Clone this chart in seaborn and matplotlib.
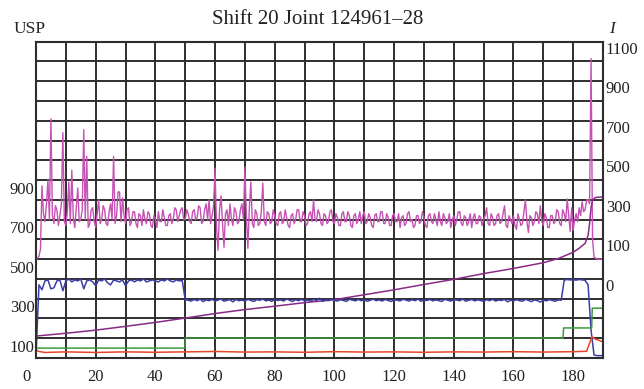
import numpy as np
import pandas as pd
import matplotlib
matplotlib.use("Agg")
import matplotlib.pyplot as plt
import matplotlib.transforms as mtransforms
import seaborn as sns

# ---------------- data ----------------
title_text = "Shift 20 Joint 124961–28"
left_axis_label = "USP"
right_axis_label = "I"

# sample positions
t_half = np.arange(0, 190.5, 0.5)   # magenta series sampled every 0.5
t = np.arange(0, 191)               # blue series sampled every 1

magenta_vals = [
    600, 605, 615, 650, 970, 830, 790, 880, 1000, 800,
    1310, 820, 780, 870, 850, 770, 820, 880, 1240, 790,
    770, 840, 990, 780, 1050, 810, 760, 860, 960, 790,
    800, 850, 1255, 800, 1120, 760, 780, 850, 860, 790,
    760, 830, 900, 780, 800, 870, 850, 780, 770, 840,
    880, 800, 1120, 780, 820, 940, 940, 790, 910, 820,
    780, 850, 860, 770, 790, 840, 840, 780, 760, 830,
    820, 770, 850, 800, 780, 840, 830, 770, 760, 820,
    800, 760, 840, 790, 790, 850, 810, 770, 770, 820,
    830, 780, 800, 860, 850, 790, 820, 850, 860, 800,
    800, 850, 830, 790, 780, 840, 850, 800, 810, 870,
    860, 780, 790, 850, 880, 800, 900, 780, 820, 870,
    1060, 760, 645, 850, 920, 780, 660, 830, 850, 770,
    880, 800, 770, 860, 840, 780, 790, 850, 880, 800,
    1065, 820, 655, 860, 990, 780, 760, 850, 830, 770,
    780, 840, 985, 790, 770, 840, 830, 780, 790, 850,
    820, 780, 770, 830, 840, 780, 790, 850, 810, 770,
    760, 820, 830, 780, 800, 850, 850, 790, 790, 840,
    820, 770, 780, 830, 840, 790, 900, 800, 790, 850,
    830, 780, 770, 830, 820, 780, 790, 840, 850, 790,
    780, 830, 810, 770, 770, 830, 840, 790, 790, 840,
    820, 770, 760, 820, 830, 780, 800, 840, 780, 820,
    840, 780, 790, 830, 810, 770, 760, 820, 830, 790,
    790, 840, 840, 780, 780, 830, 810, 770, 770, 820,
    830, 790, 790, 830, 760, 810, 820, 770, 780, 830,
    840, 790, 800, 760, 770, 820, 820, 780, 790, 840,
    810, 770, 760, 820, 830, 790, 780, 830, 800, 770,
    840, 790, 770, 830, 810, 780, 790, 830, 760, 800,
    820, 770, 800, 840, 840, 780, 770, 820, 810, 770,
    790, 830, 760, 810, 830, 780, 780, 820, 810, 770,
    800, 820, 860, 780, 770, 830, 810, 770, 780, 820,
    830, 780, 790, 830, 870, 770, 760, 820, 800, 780,
    820, 770, 750, 830, 800, 770, 780, 840, 900, 790,
    735, 820, 810, 770, 790, 840, 830, 780, 870, 790,
    770, 830, 810, 760, 760, 820, 820, 780, 790, 850,
    840, 780, 770, 850, 830, 790, 905, 820, 740, 860,
    745, 800, 830, 790, 860, 820, 890, 840, 850, 900,
    900, 880, 1615, 700, 610, 605, 600, 600, 600, 600,
    600,
]

blue_vals = [
    110, 470, 445, 490, 495, 450, 455, 490, 495, 440,
    490, 500, 485, 495, 490, 500, 450, 490, 495, 485,
    465, 495, 490, 500, 480, 470, 495, 490, 485, 495,
    465, 490, 495, 485, 495, 490, 500, 485, 490, 495,
    490, 485, 495, 490, 500, 490, 485, 495, 490, 492,
    395,
    392, 388, 396, 390, 398, 385, 394, 390, 397, 388,
    393, 399, 387, 392, 395, 384, 396, 390, 393, 388,
    397, 391, 386, 395, 392, 398, 389, 393, 387, 396,
    391, 394, 388, 399, 392, 386, 395, 390, 397, 389,
    393, 388, 396, 391, 402, 387, 393, 390, 398, 392,
    388, 395, 391, 386, 397, 393, 389, 396, 390, 394,
    387, 392, 398, 390, 394, 388, 396, 391, 386, 395,
    392, 389, 397, 393, 388, 395, 390, 398, 387, 393,
    391, 396, 389, 394, 390, 386, 397, 392, 388, 395,
    393, 390, 398, 387, 392, 396, 389, 394, 391, 386,
    395, 390, 397, 388, 393, 391, 396, 384, 392, 389,
    395, 390, 387, 396, 392, 385, 394, 390, 383, 393,
    389, 395, 391, 387, 394, 392,
    494, 497, 495, 496, 494, 497, 495, 493, 470, 240,
    115, 112, 112, 112,
]

purple_x = [0, 10, 20, 30, 40, 50, 60, 70, 80, 90, 100, 110, 120, 130, 140,
            150, 160, 170, 175, 180, 182, 184, 185, 185.5, 186, 186.5, 187.5, 190]
purple_y = [211, 225, 241, 260, 280, 302, 325, 345, 362, 380, 395, 420, 445, 472, 498,
            527, 553, 582, 603, 635, 655, 680, 720, 780, 860, 900, 912, 915]

green_x = [0, 49.9, 50, 176.6, 176.8, 186.2, 186.4, 190]
green_y = [150, 150, 201, 201, 252, 252, 352, 352]

red_x = [0, 1, 3, 10, 20, 30, 40, 50, 60, 70, 80, 90, 100, 110, 120, 130, 140,
         150, 160, 170, 180, 184.5, 185.5, 186.3, 187.5, 190]
red_y = [140, 133, 128, 131, 128, 131, 129, 131, 133, 130, 131, 129, 132, 130, 131, 129, 131,
         130, 132, 130, 132, 134, 175, 207, 195, 182]

x_major = [0, 20, 40, 60, 80, 100, 120, 140, 160, 180]
x_major_labels = ["0", "20", "40", "60", "80", "100", "120", "140", "160", "180"]
x_minor = [10, 30, 50, 70, 90, 110, 130, 150, 170, 190]

left_ticks = [100, 300, 500, 700, 900]
left_tick_labels = ["100", "300", "500", "700", "900"]
right_ticks = [1100, 900, 700, 500, 300, 100, -100]
right_tick_labels = ["1100", "900", "700", "500", "300", "100", "0"]

colors = {
    "magenta": "#c552b3",
    "purple": "#8a2a88",
    "blue": "#3a3ea6",
    "green": "#3f9a3f",
    "red": "#e8462a",
}

# ---------------- plot ----------------
sns.set_theme(style="white")
plt.rcParams["font.family"] = ["Liberation Serif", "DejaVu Serif"]

W, H = 644, 389
fig = plt.figure(figsize=(W / 100, H / 100), dpi=100)
L, R, T, B = 36, 603, 41.7, 358
ax = fig.add_axes([L / W, 1 - B / H, (R - L) / W, (B - T) / H])

ax.set_xlim(0, 190)
ax.set_ylim(100, 1700)

grid_color = "#2e2e2e"
ax.set_xticks(x_major)
ax.set_xticklabels(x_major_labels)
ax.set_xticks(x_minor, minor=True)
ax.set_yticks(np.arange(100, 1701, 100), minor=True)
ax.set_yticks(left_ticks)
ax.set_yticklabels(left_tick_labels)
ax.grid(True, which="both", color=grid_color, linewidth=1.4)
ax.set_axisbelow(True)
for s in ax.spines.values():
    s.set_color(grid_color)
    s.set_linewidth(1.5)

ax.tick_params(axis="both", which="both", length=0, labelsize=12, colors="#222222")
ax.tick_params(axis="x", pad=8)
ax.tick_params(axis="y", pad=1)

lw_main = 1.1
sns.lineplot(x=t_half, y=magenta_vals, ax=ax, color=colors["magenta"], linewidth=1.0,
             estimator=None, sort=False)
sns.lineplot(x=purple_x, y=purple_y, ax=ax, color=colors["purple"], linewidth=lw_main,
             estimator=None, sort=False)
sns.lineplot(x=t, y=blue_vals, ax=ax, color=colors["blue"], linewidth=lw_main,
             estimator=None, sort=False)
sns.lineplot(x=green_x, y=green_y, ax=ax, color=colors["green"], linewidth=lw_main,
             estimator=None, sort=False)
sns.lineplot(x=red_x, y=red_y, ax=ax, color=colors["red"], linewidth=lw_main,
             estimator=None, sort=False)
ax.set_xlabel("")
ax.set_ylabel("")

# right axis
ax2 = ax.twinx()
ax2.set_ylim(-500, 1100)
ax2.set_yticks(right_ticks)
ax2.set_yticklabels(right_tick_labels)
ax2.tick_params(axis="y", length=0, labelsize=12, pad=2, colors="#222222")
for s in ax2.spines.values():
    s.set_visible(False)
ax2.grid(False)

# label alignment
for lbl in ax.get_yticklabels():
    lbl.set_va("bottom")
    lbl.set_transform(lbl.get_transform() + mtransforms.ScaledTranslation(0, 1.5 / 72, fig.dpi_scale_trans))
for lbl in ax2.get_yticklabels():
    lbl.set_va("top")
xl = ax.get_xticklabels()
xl[0].set_transform(xl[0].get_transform() + mtransforms.ScaledTranslation(-7 / 72, 0, fig.dpi_scale_trans))

fig.text(0.494, 1 - 24 / H, title_text, ha="center", va="baseline", fontsize=15, color="#222222")
fig.text(14 / W, 1 - 33 / H, left_axis_label, ha="left", va="baseline", fontsize=12.5, color="#222222")
fig.text(612 / W, 1 - 33 / H, right_axis_label, ha="center", va="baseline", fontsize=12.5,
         style="italic", color="#222222")

fig.savefig("out.png", dpi=100, facecolor="white")
